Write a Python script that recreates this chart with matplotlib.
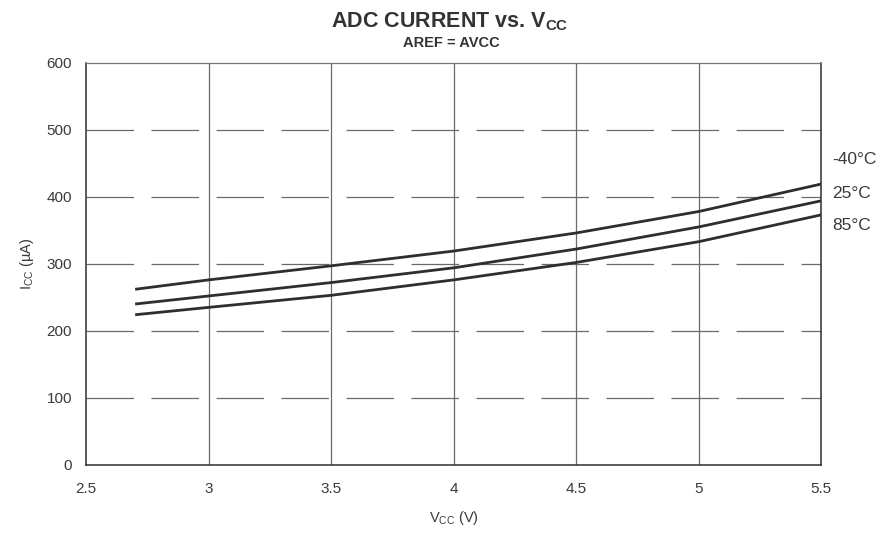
import matplotlib
matplotlib.use("Agg")
import matplotlib.pyplot as plt

plt.rcParams["font.family"] = ["Liberation Sans", "DejaVu Sans"]
plt.rcParams["mathtext.default"] = "regular"

# Supply voltage (V) and ADC supply current (uA) per temperature
vcc = [2.7, 3.0, 3.5, 4.0, 4.5, 5.0, 5.5]
icc_m40 = [262, 276, 297, 319, 346, 378, 419]
icc_25 = [240, 252, 272, 294, 322, 355, 394]
icc_85 = [224, 235, 253, 276, 302, 333, 373]
series_labels = ["-40°C", "25°C", "85°C"]

x_ticks = [2.5, 3, 3.5, 4, 4.5, 5, 5.5]
x_ticklabels = ["2.5", "3", "3.5", "4", "4.5", "5", "5.5"]
y_ticks = [0, 100, 200, 300, 400, 500, 600]

ink = "#2e2e2e"
grid_ink = "#6a6a6a"
text_ink = "#3a3a3a"

fig = plt.figure(figsize=(8.88, 5.40), dpi=100)
ax = fig.add_axes([0.097, 0.139, 0.828, 0.745])

for series in (icc_m40, icc_25, icc_85):
    ax.plot(vcc, series, color=ink, linewidth=2.0, solid_capstyle="butt", zorder=3)

ax.set_xlim(2.5, 5.5)
ax.set_ylim(0, 600)
ax.set_xticks(x_ticks)
ax.set_xticklabels(x_ticklabels)
ax.set_yticks(y_ticks)

# Broken horizontal rules and plain vertical rules, as on a printed datasheet
for y in y_ticks[1:-1]:
    ax.axhline(y, color=grid_ink, linewidth=0.9, linestyle=(0, (38, 14)), zorder=1)
for x in x_ticks[1:-1]:
    ax.axvline(x, color=grid_ink, linewidth=0.9, zorder=1)

for spine in ax.spines.values():
    spine.set_color(ink)
    spine.set_linewidth(1.1)
ax.spines["top"].set_color("#777777")
ax.spines["top"].set_linewidth(0.9)

ax.tick_params(axis="both", length=0, labelsize=11, labelcolor=text_ink)
ax.tick_params(axis="y", pad=10)
ax.tick_params(axis="x", pad=12)

ax.set_xlabel("V$_{CC}$ (V)", fontsize=10.5, color=text_ink, labelpad=10)
ax.set_ylabel("I$_{CC}$ (µA)", fontsize=10.5, color=text_ink, labelpad=8)

fig.text(0.506, 0.960, "ADC CURRENT vs. V$_{CC}$", ha="center", va="center",
         fontsize=15.5, fontweight="bold", color="#333333")
fig.text(0.508, 0.920, "AREF = AVCC", ha="center", va="center",
         fontsize=10.5, fontweight="bold", color="#333333")

# Temperature labels beside the line ends
label_y = [455, 405, 357]
for text, y in zip(series_labels, label_y):
    ax.annotate(text, xy=(5.5, y), xytext=(8, 0), textcoords="offset points",
                ha="left", va="center", fontsize=12.5, color=text_ink,
                annotation_clip=False)

fig.savefig("out.png", dpi=100)
